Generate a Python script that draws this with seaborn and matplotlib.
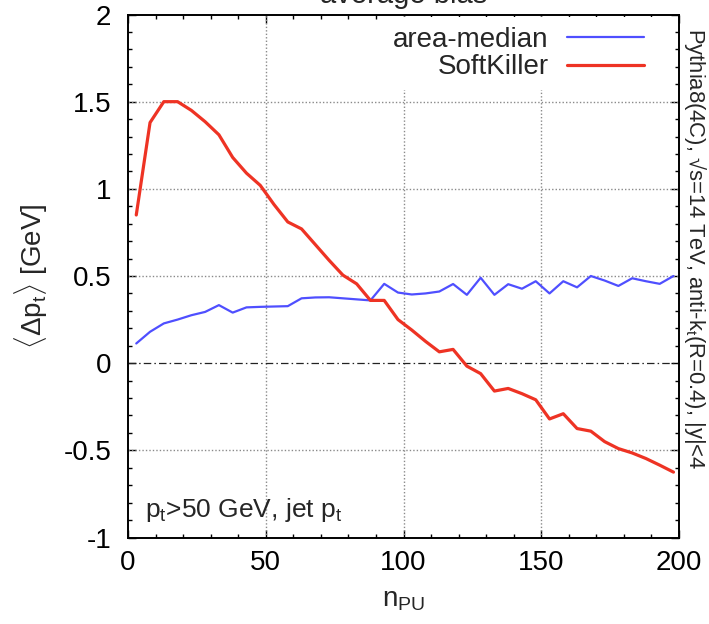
import matplotlib
matplotlib.use("Agg")
import matplotlib.pyplot as plt
import seaborn as sns
import pandas as pd

npu = [3, 8, 13, 18, 23, 28, 33, 38, 43, 48,
       53, 58, 63, 68, 73, 78, 83, 88, 93, 98,
       103, 108, 113, 118, 123, 128, 133, 138, 143, 148,
       153, 158, 163, 168, 173, 178, 183, 188, 193, 198]

area_median = [0.113, 0.18, 0.228, 0.25, 0.275, 0.294, 0.333, 0.29, 0.32, 0.323,
               0.325, 0.327, 0.372, 0.377, 0.378, 0.372, 0.366, 0.36, 0.455, 0.405,
               0.394, 0.40, 0.411, 0.454, 0.392, 0.49, 0.392, 0.453, 0.427, 0.47,
               0.40, 0.47, 0.435, 0.50, 0.474, 0.443, 0.487, 0.47, 0.455, 0.50]

softkiller = [0.85, 1.38, 1.50, 1.50, 1.45, 1.385, 1.31, 1.18, 1.09, 1.02,
              0.91, 0.81, 0.77, 0.68, 0.59, 0.505, 0.455, 0.36, 0.36, 0.25,
              0.19, 0.125, 0.065, 0.079, -0.017, -0.06, -0.16, -0.145, -0.175, -0.21,
              -0.32, -0.29, -0.375, -0.39, -0.45, -0.49, -0.515, -0.547, -0.585, -0.625]

x_major = [0, 50, 100, 150, 200]
y_major = [-1, -0.5, 0, 0.5, 1, 1.5, 2]
y_major_labels = ["-1", "-0.5", "0", "0.5", "1", "1.5", "2"]
grid_x = [50, 100, 150]
grid_y = [-0.5, 0.5, 1, 1.5]

sns.set_theme(style="ticks")
plt.rcParams["font.family"] = ["Liberation Sans", "DejaVu Sans"]
plt.rcParams["mathtext.fontset"] = "custom"
plt.rcParams["mathtext.rm"] = "Liberation Sans"
plt.rcParams["mathtext.it"] = "Liberation Sans:italic"
plt.rcParams["mathtext.bf"] = "Liberation Sans:bold"
plt.rcParams["mathtext.sf"] = "Liberation Sans"

fig = plt.figure(figsize=(7.09, 6.24), dpi=100)
ax = fig.add_axes([128 / 709, 1 - 537.5 / 624, (679 - 128) / 709, (537.5 - 14.5) / 624])

df = pd.DataFrame({"npu": npu, "area": area_median, "sk": softkiller})

for gx in grid_x:
    ax.axvline(gx, color="#8a8a8a", lw=1.0, ls=(0, (1, 1.5)), zorder=1)
for gy in grid_y:
    ax.axhline(gy, color="#8a8a8a", lw=1.0, ls=(0, (1, 1.5)), zorder=1)
ax.axhline(0, color="#222222", lw=0.9, ls=(0, (6, 2.5, 1.2, 2.5)), zorder=1)

sns.lineplot(data=df, x="npu", y="area", ax=ax, color="#4f4fff", lw=1.6,
             label="area-median", zorder=3)
sns.lineplot(data=df, x="npu", y="sk", ax=ax, color="#ee3324", lw=2.3,
             label="SoftKiller", zorder=3)

ax.set_xlim(0, 200)
ax.set_ylim(-1, 2)
ax.set_xticks(x_major)
ax.set_xticks(range(0, 201, 10), minor=True)
ax.set_yticks(y_major)
ax.set_yticklabels(y_major_labels)
ax.set_yticks([v / 10 for v in range(-10, 21)], minor=True)
ax.tick_params(which="both", direction="in", top=True, right=True, colors="black",
               labelsize=20, width=1.0)
ax.tick_params(which="major", length=6)
ax.tick_params(which="minor", length=3)
ax.tick_params(axis="x", pad=9)
ax.tick_params(axis="y", pad=12)
for s in ax.spines.values():
    s.set_linewidth(1.4)
    s.set_color("black")

ax.set_xlabel(r"n$_\mathrm{PU}$", fontsize=20, labelpad=8)
ax.set_ylabel(r"$\langle\Delta$p$_\mathrm{t}\rangle$ [GeV]", fontsize=20, labelpad=10)

leg = ax.legend(loc="upper right", bbox_to_anchor=(0.955, 0.9945), markerfirst=False,
                fontsize=20, frameon=True, facecolor="white", edgecolor="none",
                framealpha=1.0, fancybox=False, handlelength=2.8, handletextpad=0.65,
                labelspacing=0.05, borderpad=0.35, borderaxespad=0.0)
leg.set_zorder(2)

ax.text(0.03, 0.04, r"p$_\mathrm{t}$>50 GeV, jet p$_\mathrm{t}$", transform=ax.transAxes,
        fontsize=19, ha="left", va="baseline")

fig.text(695 / 709, 1 - 28 / 624, "Pythia8(4C), \u221as=14 TeV, anti-k$_\\mathrm{t}$(R=0.4), |y|<4",
         rotation=270, fontsize=15.8, ha="center", va="top")

fig.text(404 / 709, 1 - 3 / 624, "average bias", fontsize=21, ha="center", va="baseline")

fig.savefig("out.png", dpi=100)
